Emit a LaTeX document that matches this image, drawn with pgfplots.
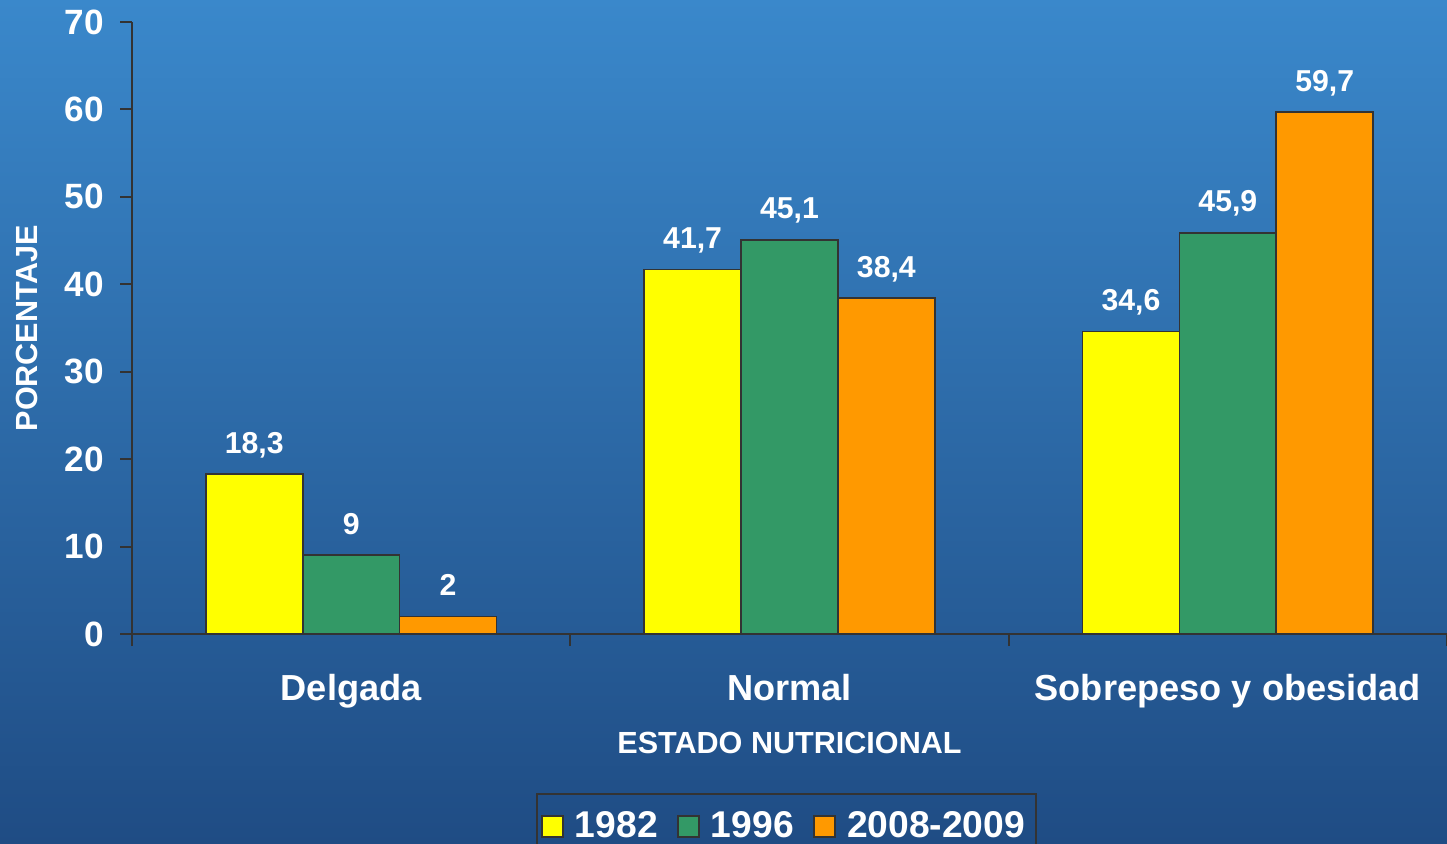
\documentclass[border=0pt]{standalone}
\usepackage{pgfplots}
\pgfplotsset{compat=1.18}
\usepackage{fontspec}
\setmainfont{Liberation Sans}
\definecolor{bgtop}{RGB}{58,136,203}
\definecolor{bgbot}{RGB}{31,76,132}
\definecolor{cy}{RGB}{255,255,0}
\definecolor{cg}{RGB}{51,153,102}
\definecolor{co}{RGB}{255,153,0}
\definecolor{edge}{RGB}{51,51,51}
\begin{document}
\begin{tikzpicture}
\useasboundingbox (0,0) rectangle (14.47,8.43);
\clip (0,0) rectangle (14.47,8.43);
\shade[top color=bgtop, bottom color=bgbot] (0,0) rectangle (14.47,8.43);
\begin{axis}[
  at={(1.32cm,2.09cm)}, anchor=south west,
  scale only axis, width=13.15cm, height=6.12cm,
  xmin=-0.5, xmax=2.5, ymin=0, ymax=70,
  ybar=0pt, bar width=0.221,
  axis x line*=bottom, axis y line*=left,
  axis line style={edge, line width=0.6pt},
  tick style={edge, line width=0.6pt},
  tick align=outside,
  major tick length=0.12cm,
  ytick={0,10,...,70},
  /pgf/number format/assume math mode=true,
  yticklabel style={font=\bfseries\fontsize{10}{12}\selectfont, text=white, xshift=-0.04cm},
  xtick={-0.5,0.5,1.5,2.5},
  xticklabels={},
  extra x ticks={0,1,2},
  extra x tick labels={Delgada,Normal,Sobrepeso y obesidad},
  extra x tick style={major tick length=0pt,
    tick label style={font=\bfseries\fontsize{10.3}{12}\selectfont, text=white, anchor=base, yshift=-0.66cm}},
  xlabel={ESTADO NUTRICIONAL},
  xlabel style={at={(axis description cs:0.5,0)}, anchor=base, yshift=-1.19cm,
    font=\bfseries\fontsize{8.7}{10}\selectfont, text=white},
  ylabel={PORCENTAJE},
  ylabel style={at={(axis description cs:-0.0715,0.5)}, anchor=base, rotate=0,
    font=\bfseries\fontsize{8.7}{10}\selectfont, text=white},
  nodes near coords,
  every node near coord/.append style={font=\bfseries\fontsize{8.6}{10}\selectfont, text=white, anchor=base, yshift=0.21cm,
    /pgf/number format/use comma},
  legend style={at={(axis description cs:0.4977,-0.2598)}, anchor=north,
    fill=none, draw=edge, line width=0.6pt, legend columns=3,
    font=\bfseries\fontsize{10.6}{12}\selectfont, text=white,
    inner ysep=0.1cm, inner xsep=0.04cm,
    /tikz/every odd column/.append style={column sep=0.04cm},
    /tikz/every even column/.append style={column sep=0.12cm}},
  legend image code/.code={\draw[#1, draw=edge, line width=0.6pt] (0cm,-0.105cm) rectangle (0.21cm,0.105cm);},
]
\addplot[fill=cy, draw=edge, line width=0.5pt]
  coordinates {(0,18.3) (1,41.7) (2,34.6)};
\addplot[fill=cg, draw=edge, line width=0.5pt]
  coordinates {(0,9) (1,45.1) (2,45.9)};
\addplot[fill=co, draw=edge, line width=0.5pt]
  coordinates {(0,2) (1,38.4) (2,59.7)};
\legend{1982,1996,2008-2009}
\end{axis}
\end{tikzpicture}
\end{document}
